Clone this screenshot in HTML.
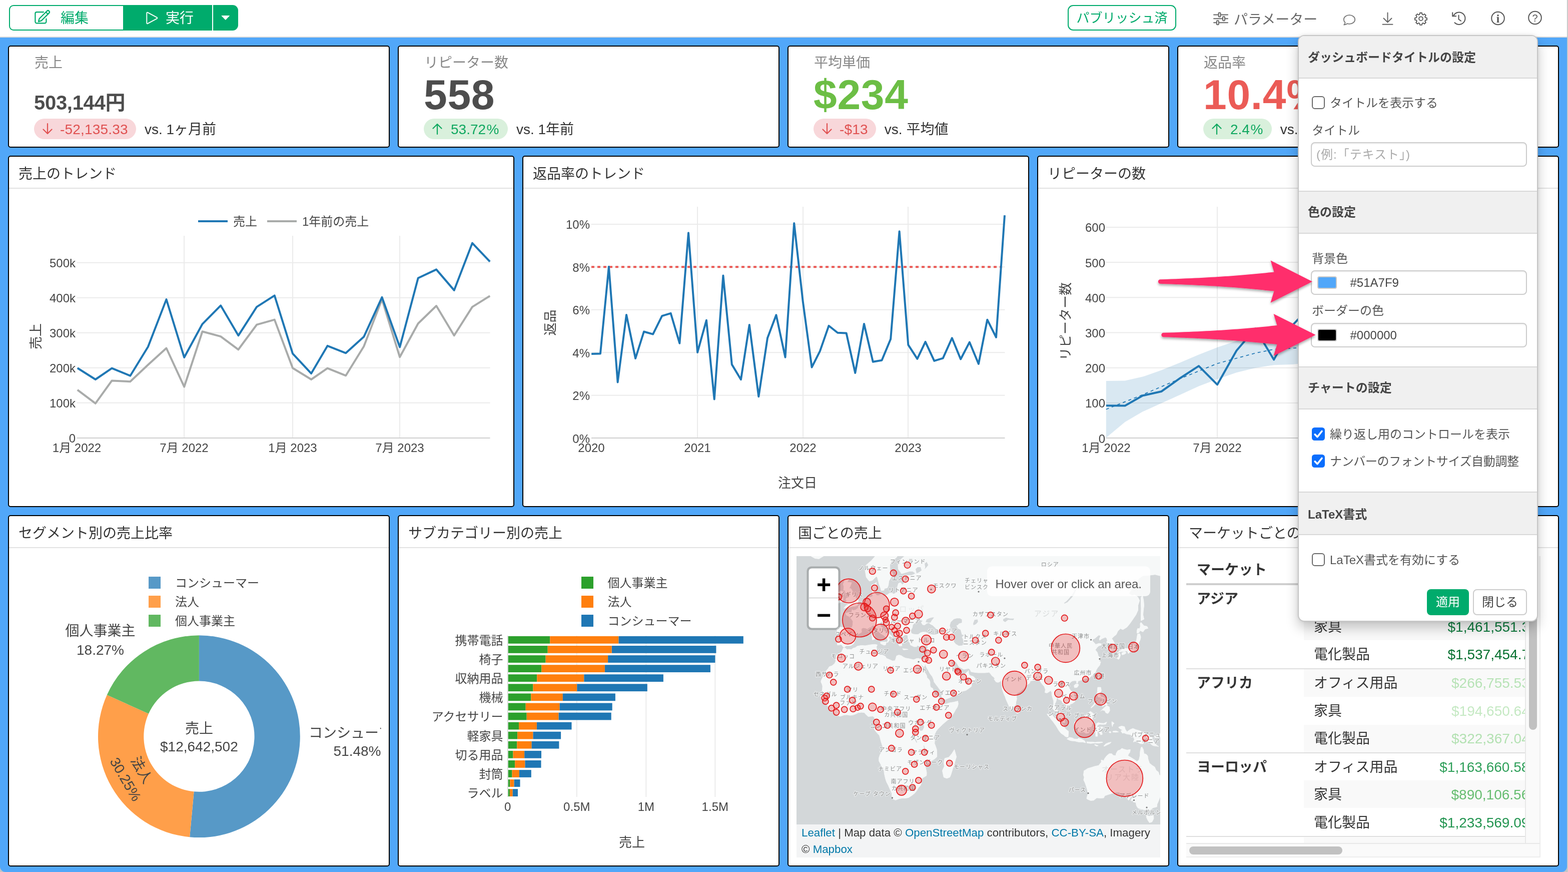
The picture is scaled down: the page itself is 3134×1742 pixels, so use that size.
<!DOCTYPE html>
<html lang="ja">
<head>
<meta charset="utf-8">
<title>ダッシュボード</title>
<style>
*{box-sizing:border-box;margin:0;padding:0}
html,body{width:3134px;height:1742px;overflow:hidden;background:#fff}
body{position:relative;font-family:"Liberation Sans","Noto Sans CJK JP",sans-serif;color:#333;font-size:28px;line-height:1}
svg text{font-family:"Liberation Sans","Noto Sans CJK JP",sans-serif}
.abs{position:absolute}
#bg{position:absolute;left:0;top:75px;width:3132px;height:1667px;background:#51a7f9;border-radius:0 0 11px 11px}
#cornl,#cornr{position:absolute;top:1728px;width:14px;height:14px;background:#c4c4c4}
#cornl{left:0}
#cornr{left:3118px}
#topline{position:absolute;left:0;top:73px;width:3132px;height:2px;background:#dcdcdc}
#redge{position:absolute;left:3132px;top:0;width:2px;height:1742px;background:linear-gradient(90deg,#b4b4b4,#dedede)}
.card{position:absolute;background:#fff;border:2px solid #000;border-radius:5px;overflow:hidden}
.card .ttl{position:absolute;left:0;top:0;right:0;height:64px;border-bottom:2px solid #e2e2e2;font-size:28px;line-height:70px;padding-left:19px;color:#333;white-space:nowrap}
.kl{position:absolute;left:51px;top:13px;font-size:28px;line-height:40px;color:#888;white-space:nowrap}
.kv{position:absolute;left:50px;font-weight:bold;white-space:nowrap;letter-spacing:-0.3px}
.prow{position:absolute;left:50px;top:144px;height:41px;display:flex;white-space:nowrap}
.pill{position:relative;height:41px;border-radius:21px;font-size:28px;line-height:43px;padding:0 16px 0 54px;white-space:nowrap}
.pill svg{position:absolute;left:15px;top:8px}
.pill.r{background:#f8d7da;color:#e05252}
.pill.g{background:#d9f0dc;color:#10a860}
.vs{margin-left:17px;font-size:28px;line-height:43px;color:#333;white-space:nowrap}
</style>
</head>
<body>
<div id="cornl"></div><div id="cornr"></div>
<div id="bg"></div>
<div id="topline"></div>
<div id="redge"></div>

<!-- top bar -->
<div class="abs" style="left:18px;top:10px;width:230px;height:51px;border:2px solid #00ab6c;border-right:0;border-radius:9px 0 0 9px;background:#fff"></div>
<div class="abs" style="left:246px;top:10px;width:178px;height:51px;background:#00ab6c"></div>
<div class="abs" style="left:426px;top:10px;width:50px;height:51px;background:#00ab6c;border-radius:0 11px 11px 0"></div>
<svg class="abs" style="left:66px;top:16px" width="38" height="36" viewBox="0 0 38 36" fill="none" stroke="#00ab6c" stroke-width="2.2" stroke-linecap="round" stroke-linejoin="round">
<path d="M21 8.100H7.400a3 3 0 0 0-3 3V27.300a3 3 0 0 0 3 3H23.400a3 3 0 0 0 3-3V21.500"/>
<path d="M10.9 27.1L12.600 21.300L27.900 6a2.900 2.900 0 0 1 4.100 0a2.900 2.900 0 0 1 0 4.100L16.700 25.400z"/>
<path d="M25.700 8.200l4.100 4.100"/>
</svg>
<div class="abs" style="left:121px;top:17px;font-size:28px;line-height:40px;color:#00ab6c">編集</div>
<svg class="abs" style="left:288px;top:20px" width="30" height="32" viewBox="0 0 30 32" fill="none" stroke="#fff" stroke-width="1.900" stroke-linejoin="round">
<path d="M5.300 6.400Q5.300 3.900 7.500 5.100L25.200 14.700Q27.500 16 25.200 17.300L7.500 26.900Q5.300 28.100 5.300 25.600Z"/>
</svg>
<div class="abs" style="left:331px;top:17px;font-size:28px;line-height:40px;color:#fff">実行</div>
<svg class="abs" style="left:441px;top:30px" width="20" height="12" viewBox="0 0 20 12"><path d="M2 1.5h15.5L9.8 9.6z" fill="#fff" stroke="#fff" stroke-width="1" stroke-linejoin="round"/></svg>

<div class="abs" style="left:2134px;top:10px;width:217px;height:51px;border:2px solid #00ab6c;border-radius:11px;color:#00ab6c;font-size:26px;line-height:48px;text-align:center;white-space:nowrap">パブリッシュ済</div>

<svg class="abs" style="left:2424px;top:23px" width="32" height="28" viewBox="0 0 32 28" fill="none" stroke="#666" stroke-width="2">
<path d="M2 6.5h28M2 14.3h28M2 22.2h28" stroke-linecap="round"/>
<rect x="11.5" y="2.6" width="4" height="8" rx="1" fill="#fff"/>
<rect x="20" y="10.3" width="4" height="8" rx="1" fill="#fff"/>
<rect x="7.8" y="18.2" width="4" height="8" rx="1" fill="#fff"/>
</svg>
<div class="abs" style="left:2466px;top:19.5px;font-size:28px;line-height:40px;color:#666;white-space:nowrap">パラメーター</div>

<svg class="abs" style="left:2682px;top:26px" width="30" height="28" viewBox="0 0 30 28" fill="none" stroke="#777" stroke-width="1.8" stroke-linejoin="round">
<path d="M15 4.2c6.2 0 11.2 3.9 11.2 8.8s-5 8.8-11.2 8.8c-1.5 0-2.9-.2-4.200-.6c-1.6 1.200-3.800 2.200-6.600 2.500c1.400-1.500 2.200-3.100 2.400-4.700C4.800 17.400 3.800 15.300 3.800 13C3.800 8.100 8.800 4.200 15 4.200z"/>
</svg>
<svg class="abs" style="left:2760px;top:22px" width="28" height="30" viewBox="0 0 28 30" fill="none" stroke="#666" stroke-width="2" stroke-linecap="round" stroke-linejoin="round">
<path d="M13.5 3.500V22M5.500 14.500L13.500 22.500L21.500 14.500M3.500 26.800H23.500"/>
</svg>
<svg class="abs" style="left:2826px;top:23px" width="28" height="28" viewBox="0 0 24 24" fill="none" stroke="#555" stroke-width="1.600" stroke-linejoin="round">
<path d="M10.3 2.200h3.400l.5 2.600 1.700.7 2.200-1.500 2.400 2.400-1.500 2.200.7 1.700 2.600.5v3.400l-2.600.5-.7 1.700 1.500 2.200-2.400 2.400-2.200-1.500-1.700.7-.5 2.600h-3.400l-.5-2.600-1.700-.7-2.200 1.500-2.400-2.400 1.500-2.200-.7-1.700-2.600-.5v-3.400l2.600-.5.7-1.700-1.500-2.200 2.400-2.400 2.200 1.500 1.700-.7z" transform="translate(0,0.200)"/>
<circle cx="12" cy="12.200" r="3.300"/>
</svg>
<svg class="abs" style="left:2900px;top:22px" width="32" height="30" viewBox="0 0 32 30" fill="none" stroke="#555" stroke-width="2" stroke-linecap="square" stroke-linejoin="miter">
<path d="M7.500 23.200A12.200 12.200 0 1 0 5.200 9.600" stroke-linecap="round"/>
<path d="M3.200 3.500V10.300H10"/>
<path d="M15.500 8.500V16.500L20 19.800" stroke-linecap="round"/>
</svg>
<svg class="abs" style="left:2978px;top:21px" width="32" height="32" viewBox="0 0 32 32" fill="none" stroke="#555" stroke-width="2">
<circle cx="16" cy="15.500" r="12.800"/>
<text x="16" y="23.500" text-anchor="middle" style="font-family:'Liberation Serif',serif;font-weight:bold;font-size:23px" fill="#555" stroke="none">i</text>
</svg>
<svg class="abs" style="left:3052px;top:20px" width="32" height="32" viewBox="0 0 32 32" fill="none" stroke="#555" stroke-width="2">
<circle cx="16" cy="15.500" r="12.800"/>
<text x="16" y="22.500" text-anchor="middle" font-size="20" fill="#555" stroke="none">?</text>
</svg>

<div class="card" style="left:16px;top:91px;width:763px;height:204px" id="kpi16"><div class="kl">売上</div><div class="kv" style="top:87px;font-size:40px;line-height:50px;color:#4d4d4d;letter-spacing:-0.3px">503,144円</div><div class="prow"><div class="pill r" style="padding-left:52px;letter-spacing:0.2px"><svg width="24" height="25" viewBox="0 0 24 25" fill="none" stroke="#e05252" stroke-width="2.200" stroke-linecap="round" stroke-linejoin="round"><path d="M12 2V22M3.500 13.500L12 22L20.500 13.500"/></svg>-52,135.33</div><div class="vs">vs. 1ヶ月前</div></div></div>
<div class="card" style="left:795px;top:91px;width:763px;height:204px" id="kpi795"><div class="kl">リピーター数</div><div class="kv" style="top:49px;font-size:84px;line-height:94px;color:#4d4d4d;letter-spacing:0.7px">558</div><div class="prow"><div class="pill g"><svg width="24" height="25" viewBox="0 0 24 25" fill="none" stroke="#10a860" stroke-width="2.200" stroke-linecap="round" stroke-linejoin="round"><path d="M12 23V3M3.500 11.500L12 3L20.500 11.500"/></svg>53.72<span style="margin-left:1.5px;margin-right:1.5px">%</span></div><div class="vs">vs. 1年前</div></div></div>
<div class="card" style="left:1574px;top:91px;width:763px;height:204px" id="kpi1574"><div class="kl">平均単価</div><div class="kv" style="top:49px;font-size:84px;line-height:94px;color:#6cbe45;letter-spacing:0.7px">$234</div><div class="prow"><div class="pill r" style="padding-left:52px;letter-spacing:0.2px"><svg width="24" height="25" viewBox="0 0 24 25" fill="none" stroke="#e05252" stroke-width="2.200" stroke-linecap="round" stroke-linejoin="round"><path d="M12 2V22M3.500 13.500L12 22L20.500 13.500"/></svg>-$13</div><div class="vs">vs. 平均値</div></div></div>
<div class="card" style="left:2353px;top:91px;width:763px;height:204px" id="kpi2353"><div class="kl">返品率</div><div class="kv" style="top:49px;font-size:84px;line-height:94px;color:#eb5b56;letter-spacing:0.7px">10.4%</div><div class="prow"><div class="pill g"><svg width="24" height="25" viewBox="0 0 24 25" fill="none" stroke="#10a860" stroke-width="2.200" stroke-linecap="round" stroke-linejoin="round"><path d="M12 23V3M3.500 11.500L12 3L20.500 11.500"/></svg>2.4<span style="margin-left:1.5px;margin-right:1.5px">%</span></div><div class="vs">vs. 1年前</div></div></div>
<div class="card" style="left:16px;top:311px;width:1012px;height:702px"><div class="ttl">売上のトレンド</div><svg class="abs" style="left:-18px;top:-313px" width="3134" height="1742" viewBox="0 0 3134 1742"><line x1="368.0" x2="368.0" y1="471.0" y2="875.0" stroke="#ebebeb" stroke-width="2"/><line x1="585.0" x2="585.0" y1="471.0" y2="875.0" stroke="#ebebeb" stroke-width="2"/><line x1="799.0" x2="799.0" y1="471.0" y2="875.0" stroke="#ebebeb" stroke-width="2"/><line x1="153.5" x2="979.5" y1="804.8" y2="804.8" stroke="#ebebeb" stroke-width="2"/><line x1="153.5" x2="979.5" y1="734.8" y2="734.8" stroke="#ebebeb" stroke-width="2"/><line x1="153.5" x2="979.5" y1="664.8" y2="664.8" stroke="#ebebeb" stroke-width="2"/><line x1="153.5" x2="979.5" y1="594.8" y2="594.8" stroke="#ebebeb" stroke-width="2"/><line x1="153.5" x2="979.5" y1="524.8" y2="524.8" stroke="#ebebeb" stroke-width="2"/><line x1="153.5" x2="979.5" y1="875.0" y2="875.0" stroke="#cfcfcf" stroke-width="2"/><polyline points="154.8,778.9 190.8,805.8 223.6,760.4 260.3,762.2 295.9,728.7 332.5,695.5 368.2,772.7 404.5,662.3 441.1,672.1 476.4,698.3 513.1,648.7 548.7,638.6 585.0,735.3 622.1,758.0 654.5,735.6 691.2,750.3 727.2,692.0 763.5,598.1 799.1,713.3 835.7,646.3 872.1,611.0 907.7,670.3 944.0,613.1 979.2,591.1" fill="none" stroke="#a9abaa" stroke-width="4" stroke-linejoin="round" stroke-linecap="butt" /><polyline points="154.8,735.3 190.8,758.0 223.6,735.6 260.3,750.7 295.9,692.7 332.5,598.1 368.2,714.0 404.5,647.3 441.1,610.3 476.4,670.3 513.1,613.1 548.7,590.4 585.0,706.3 622.1,746.1 654.5,690.9 691.2,705.3 727.2,672.8 763.5,593.9 799.1,693.4 835.7,555.5 872.1,538.4 907.7,579.9 944.0,485.6 979.2,522.7" fill="none" stroke="#1f77b4" stroke-width="4" stroke-linejoin="round" stroke-linecap="butt" /><text x="151.0" y="884.2" font-size="24" text-anchor="end" fill="#444" >0</text><text x="151.0" y="814.2" font-size="24" text-anchor="end" fill="#444" >100k</text><text x="151.0" y="744.2" font-size="24" text-anchor="end" fill="#444" >200k</text><text x="151.0" y="674.2" font-size="24" text-anchor="end" fill="#444" >300k</text><text x="151.0" y="604.2" font-size="24" text-anchor="end" fill="#444" >400k</text><text x="151.0" y="534.2" font-size="24" text-anchor="end" fill="#444" >500k</text><text x="153.5" y="902.9" font-size="24" text-anchor="middle" fill="#444" >1月 2022</text><text x="368.0" y="902.9" font-size="24" text-anchor="middle" fill="#444" >7月 2022</text><text x="585.0" y="902.9" font-size="24" text-anchor="middle" fill="#444" >1月 2023</text><text x="799.0" y="902.9" font-size="24" text-anchor="middle" fill="#444" >7月 2023</text><text transform="translate(72.0,672.0) rotate(-90)" x="0" y="9.2" font-size="26" text-anchor="middle" fill="#444">売上</text><line x1="396.0" x2="455.0" y1="442.0" y2="442.0" stroke="#1f77b4" stroke-width="4"/><text x="466.0" y="451.4" font-size="24" text-anchor="start" fill="#444" >売上</text><line x1="534.0" x2="593.0" y1="442.0" y2="442.0" stroke="#a9abaa" stroke-width="4"/><text x="604.0" y="451.4" font-size="24" text-anchor="start" fill="#444" >1年前の売上</text></svg></div>
<div class="card" style="left:1044px;top:311px;width:1013px;height:702px"><div class="ttl">返品率のトレンド</div><svg class="abs" style="left:-1046px;top:-313px" width="3134" height="1742" viewBox="0 0 3134 1742"><line x1="1394.0" x2="1394.0" y1="413.0" y2="875.0" stroke="#ebebeb" stroke-width="2"/><line x1="1605.0" x2="1605.0" y1="413.0" y2="875.0" stroke="#ebebeb" stroke-width="2"/><line x1="1815.0" x2="1815.0" y1="413.0" y2="875.0" stroke="#ebebeb" stroke-width="2"/><line x1="1182.0" x2="2008.5" y1="789.7" y2="789.7" stroke="#ebebeb" stroke-width="2"/><line x1="1182.0" x2="2008.5" y1="704.2" y2="704.2" stroke="#ebebeb" stroke-width="2"/><line x1="1182.0" x2="2008.5" y1="618.8" y2="618.8" stroke="#ebebeb" stroke-width="2"/><line x1="1182.0" x2="2008.5" y1="533.3" y2="533.3" stroke="#ebebeb" stroke-width="2"/><line x1="1182.0" x2="2008.5" y1="447.9" y2="447.9" stroke="#ebebeb" stroke-width="2"/><line x1="1182.0" x2="2008.5" y1="875.0" y2="875.0" stroke="#cfcfcf" stroke-width="2"/><line x1="1182" x2="2002.5" y1="533.3" y2="533.3" stroke="#ea5a55" stroke-width="4" stroke-dasharray="6,6"/><polyline points="1182.2,706.9 1199.9,706.6 1216.9,532.7 1234.6,763.5 1252.0,628.9 1270.1,716.0 1287.0,662.5 1305.1,667.7 1323.2,631.2 1340.6,625.9 1358.3,685.8 1376.0,465.2 1394.1,703.9 1411.9,639.8 1427.7,797.5 1445.4,550.5 1462.8,728.1 1480.9,758.2 1497.8,648.9 1516.3,792.2 1534.0,675.3 1551.4,629.3 1569.5,713.7 1587.2,446.0 1604.9,603.6 1622.6,733.7 1638.8,701.7 1656.5,650.8 1674.2,664.7 1691.6,665.5 1709.3,745.0 1727.0,647.0 1744.8,722.8 1762.5,719.8 1780.2,677.2 1797.6,462.2 1815.3,688.8 1833.4,716.8 1849.6,682.8 1867.3,720.9 1884.7,715.6 1902.8,675.3 1920.1,717.5 1937.8,683.6 1955.9,726.9 1973.3,638.7 1991.0,673.8 2008.0,430.2" fill="none" stroke="#1f77b4" stroke-width="4" stroke-linejoin="round" stroke-linecap="butt" stroke-linejoin="miter"/><text x="1179.0" y="884.5" font-size="24" text-anchor="end" fill="#444" >0%</text><text x="1179.0" y="799.0" font-size="24" text-anchor="end" fill="#444" >2%</text><text x="1179.0" y="713.6" font-size="24" text-anchor="end" fill="#444" >4%</text><text x="1179.0" y="628.1" font-size="24" text-anchor="end" fill="#444" >6%</text><text x="1179.0" y="542.7" font-size="24" text-anchor="end" fill="#444" >8%</text><text x="1179.0" y="457.3" font-size="24" text-anchor="end" fill="#444" >10%</text><text x="1182.0" y="902.9" font-size="24" text-anchor="middle" fill="#444" >2020</text><text x="1394.0" y="902.9" font-size="24" text-anchor="middle" fill="#444" >2021</text><text x="1605.0" y="902.9" font-size="24" text-anchor="middle" fill="#444" >2022</text><text x="1815.0" y="902.9" font-size="24" text-anchor="middle" fill="#444" >2023</text><text transform="translate(1100.0,644.5) rotate(-90)" x="0" y="9.2" font-size="26" text-anchor="middle" fill="#444">返品</text><text x="1594.0" y="974.1" font-size="26" text-anchor="middle" fill="#444" >注文日</text></svg></div>
<div class="card" style="left:2073px;top:311px;width:1043px;height:702px"><div class="ttl">リピーターの数</div><svg class="abs" style="left:-2075px;top:-313px" width="3134" height="1742" viewBox="0 0 3134 1742"><line x1="2433.0" x2="2433.0" y1="413.0" y2="875.0" stroke="#ebebeb" stroke-width="2"/><line x1="2656.0" x2="2656.0" y1="413.0" y2="875.0" stroke="#ebebeb" stroke-width="2"/><line x1="2876.0" x2="2876.0" y1="413.0" y2="875.0" stroke="#ebebeb" stroke-width="2"/><line x1="2211.0" x2="3062.0" y1="804.9" y2="804.9" stroke="#ebebeb" stroke-width="2"/><line x1="2211.0" x2="3062.0" y1="734.7" y2="734.7" stroke="#ebebeb" stroke-width="2"/><line x1="2211.0" x2="3062.0" y1="664.5" y2="664.5" stroke="#ebebeb" stroke-width="2"/><line x1="2211.0" x2="3062.0" y1="594.3" y2="594.3" stroke="#ebebeb" stroke-width="2"/><line x1="2211.0" x2="3062.0" y1="524.1" y2="524.1" stroke="#ebebeb" stroke-width="2"/><line x1="2211.0" x2="3062.0" y1="453.9" y2="453.9" stroke="#ebebeb" stroke-width="2"/><line x1="2211.0" x2="3062.0" y1="875.0" y2="875.0" stroke="#cfcfcf" stroke-width="2"/><polygon points="2210.8,760.9 2248.6,760.5 2284.0,752.6 2321.3,739.4 2359.0,724.3 2396.0,708.5 2433.0,694.1 2471.4,680.9 2509.1,672.3 2546.1,667.7 2583.4,664.0 2657.3,648.9 2768.6,611.2 2879.4,565.9 2990.7,513.1 3064.6,467.9 3064.6,577.2 2990.7,596.1 2879.4,641.3 2768.6,686.6 2657.3,720.5 2583.4,728.1 2546.1,729.2 2509.1,734.9 2471.4,744.3 2433.0,757.5 2396.0,771.4 2359.0,788.4 2321.3,805.4 2284.0,822.3 2248.6,843.1 2210.8,874.4" fill="#1f77b4" fill-opacity="0.17"/><polyline points="2210.8,817.8 2284.0,788.4 2359.0,756.3 2433.0,726.2 2509.1,705.4 2546.1,697.9 2594.7,694.9 2657.3,686.6 2768.6,648.9 2879.4,603.6 2990.7,554.6 3064.6,524.4" fill="none" stroke="#1f77b4" stroke-width="1.7" stroke-linejoin="round" stroke-linecap="butt" stroke-dasharray="6,6"/><polyline points="2210.8,810.3 2248.6,810.6 2284.0,790.3 2321.3,782.0 2359.0,755.2 2396.0,731.1 2433.0,768.4 2471.4,700.5 2509.1,656.4 2546.1,718.6 2583.4,649.6 2620.4,611.2 2657.3,641.3 2694.7,596.1 2731.6,569.7 2768.6,611.2 2805.5,577.2 2842.5,558.4 2879.4,571.6 2916.8,543.3 2953.7,513.1 2990.7,528.2 3027.6,498.0 3064.6,483.7" fill="none" stroke="#1f77b4" stroke-width="4" stroke-linejoin="round" stroke-linecap="butt" /><text x="2209.0" y="884.5" font-size="24" text-anchor="end" fill="#444" >0</text><text x="2209.0" y="814.3" font-size="24" text-anchor="end" fill="#444" >100</text><text x="2209.0" y="744.1" font-size="24" text-anchor="end" fill="#444" >200</text><text x="2209.0" y="673.9" font-size="24" text-anchor="end" fill="#444" >300</text><text x="2209.0" y="603.7" font-size="24" text-anchor="end" fill="#444" >400</text><text x="2209.0" y="533.5" font-size="24" text-anchor="end" fill="#444" >500</text><text x="2209.0" y="463.3" font-size="24" text-anchor="end" fill="#444" >600</text><text x="2211.0" y="902.9" font-size="24" text-anchor="middle" fill="#444" >1月 2022</text><text x="2433.0" y="902.9" font-size="24" text-anchor="middle" fill="#444" >7月 2022</text><text x="2656.0" y="902.9" font-size="24" text-anchor="middle" fill="#444" >1月 2023</text><text x="2876.0" y="902.9" font-size="24" text-anchor="middle" fill="#444" >7月 2023</text><text transform="translate(2129.5,642.0) rotate(-90)" x="0" y="9.2" font-size="26" text-anchor="middle" fill="#444">リピーター数</text></svg></div>
<div class="card" style="left:16px;top:1029px;width:763px;height:702px"><div class="ttl">セグメント別の売上比率</div><svg class="abs" style="left:-18px;top:-1031px" width="3134" height="1742" viewBox="0 0 3134 1742"><path d="M397.90,1269.30A201.9,201.9 0 1 1 379.15,1672.23L387.63,1581.32A110.6,110.6 0 1 0 397.90,1360.60Z" fill="#5799c7"/><path d="M379.15,1672.23A201.9,201.9 0 0 1 213.78,1388.35L297.04,1425.81A110.6,110.6 0 0 0 387.63,1581.32Z" fill="#ff9f4a"/><path d="M213.78,1388.35A201.9,201.9 0 0 1 397.90,1269.30L397.90,1360.60A110.6,110.6 0 0 0 297.04,1425.81Z" fill="#61b861"/><rect x="297" y="1152" width="24" height="24" fill="#5799c7"/><text x="350.0" y="1173.4" font-size="24" text-anchor="start" fill="#444" >コンシューマー</text><rect x="297" y="1190" width="24" height="24" fill="#ff9f4a"/><text x="350.0" y="1211.4" font-size="24" text-anchor="start" fill="#444" >法人</text><rect x="297" y="1228" width="24" height="24" fill="#61b861"/><text x="350.0" y="1249.4" font-size="24" text-anchor="start" fill="#444" >個人事業主</text><text x="200.5" y="1269.9" font-size="28" text-anchor="middle" fill="#444" >個人事業主</text><text x="200.5" y="1307.9" font-size="28" text-anchor="middle" fill="#444" >18.27%</text><clipPath id="pcl"><rect x="18" y="1031" width="743.500" height="698"/></clipPath><g clip-path="url(#pcl)"><text x="617.0" y="1473.9" font-size="28" text-anchor="start" fill="#444" >コンシューマー</text></g><text x="761.5" y="1510.4" font-size="28" text-anchor="end" fill="#444" >51.48%</text><text x="397.9" y="1465.4" font-size="28" text-anchor="middle" fill="#444" >売上</text><text x="397.9" y="1501.4" font-size="28" text-anchor="middle" fill="#444" >$12,642,502</text><g transform="translate(262.9,1549.8) rotate(59.78)"><text x="0" y="-13.500" font-size="28" text-anchor="middle" fill="#444">法人</text><text x="0" y="23.500" font-size="28" text-anchor="middle" fill="#444">30.25%</text></g></svg></div>
<div class="card" style="left:795px;top:1029px;width:763px;height:702px"><div class="ttl">サブカテゴリー別の売上</div><svg class="abs" style="left:-797px;top:-1031px" width="3134" height="1742" viewBox="0 0 3134 1742"><line x1="1152.8" x2="1152.8" y1="1270.0" y2="1592.0" stroke="#ebebeb" stroke-width="2"/><line x1="1291.3" x2="1291.3" y1="1270.0" y2="1592.0" stroke="#ebebeb" stroke-width="2"/><line x1="1429.3" x2="1429.3" y1="1270.0" y2="1592.0" stroke="#ebebeb" stroke-width="2"/><line x1="1014.8" x2="1014.8" y1="1270.0" y2="1592.0" stroke="#dcdcdc" stroke-width="2"/><rect x="1015.8" y="1270.9" width="83.5" height="14.8" fill="#2ca02c"/><rect x="1099.3" y="1270.9" width="137.2" height="14.8" fill="#ff7f0e"/><rect x="1236.5" y="1270.9" width="249.3" height="14.8" fill="#1f77b4"/><text x="1005.5" y="1287.7" font-size="24" text-anchor="end" fill="#444" >携帯電話</text><rect x="1015.8" y="1290.0" width="78.9" height="14.8" fill="#2ca02c"/><rect x="1094.7" y="1290.0" width="128.1" height="14.8" fill="#ff7f0e"/><rect x="1222.9" y="1290.0" width="208.5" height="14.8" fill="#1f77b4"/><rect x="1015.8" y="1309.1" width="74.8" height="14.8" fill="#2ca02c"/><rect x="1090.6" y="1309.1" width="124.4" height="14.8" fill="#ff7f0e"/><rect x="1215.1" y="1309.1" width="214.3" height="14.8" fill="#1f77b4"/><text x="1005.5" y="1325.8" font-size="24" text-anchor="end" fill="#444" >椅子</text><rect x="1015.8" y="1328.2" width="66.6" height="14.8" fill="#2ca02c"/><rect x="1082.4" y="1328.2" width="126.5" height="14.8" fill="#ff7f0e"/><rect x="1208.9" y="1328.2" width="211.0" height="14.8" fill="#1f77b4"/><rect x="1015.8" y="1347.2" width="57.5" height="14.8" fill="#2ca02c"/><rect x="1073.3" y="1347.2" width="93.9" height="14.8" fill="#ff7f0e"/><rect x="1167.3" y="1347.2" width="158.6" height="14.8" fill="#1f77b4"/><text x="1005.5" y="1364.0" font-size="24" text-anchor="end" fill="#444" >収納用品</text><rect x="1015.8" y="1366.3" width="49.7" height="14.8" fill="#2ca02c"/><rect x="1065.5" y="1366.3" width="87.8" height="14.8" fill="#ff7f0e"/><rect x="1153.3" y="1366.3" width="140.5" height="14.8" fill="#1f77b4"/><rect x="1015.8" y="1385.4" width="45.6" height="14.8" fill="#2ca02c"/><rect x="1061.4" y="1385.4" width="63.5" height="14.8" fill="#ff7f0e"/><rect x="1124.8" y="1385.4" width="105.1" height="14.8" fill="#1f77b4"/><text x="1005.5" y="1402.2" font-size="24" text-anchor="end" fill="#444" >機械</text><rect x="1015.8" y="1404.5" width="34.9" height="14.8" fill="#2ca02c"/><rect x="1050.7" y="1404.5" width="68.0" height="14.8" fill="#ff7f0e"/><rect x="1118.6" y="1404.5" width="105.1" height="14.8" fill="#1f77b4"/><rect x="1015.8" y="1423.6" width="36.9" height="14.8" fill="#2ca02c"/><rect x="1052.7" y="1423.6" width="63.9" height="14.8" fill="#ff7f0e"/><rect x="1116.6" y="1423.6" width="105.1" height="14.8" fill="#1f77b4"/><text x="1005.5" y="1440.3" font-size="24" text-anchor="end" fill="#444" >アクセサリー</text><rect x="1015.8" y="1442.7" width="21.3" height="14.8" fill="#2ca02c"/><rect x="1037.1" y="1442.7" width="35.8" height="14.8" fill="#ff7f0e"/><rect x="1072.9" y="1442.7" width="69.6" height="14.8" fill="#1f77b4"/><rect x="1015.8" y="1461.7" width="18.4" height="14.8" fill="#2ca02c"/><rect x="1034.2" y="1461.7" width="31.3" height="14.8" fill="#ff7f0e"/><rect x="1065.5" y="1461.7" width="55.6" height="14.8" fill="#1f77b4"/><text x="1005.5" y="1478.5" font-size="24" text-anchor="end" fill="#444" >軽家具</text><rect x="1015.8" y="1480.8" width="17.6" height="14.8" fill="#2ca02c"/><rect x="1033.4" y="1480.8" width="29.3" height="14.8" fill="#ff7f0e"/><rect x="1062.6" y="1480.8" width="54.8" height="14.8" fill="#1f77b4"/><rect x="1015.8" y="1499.9" width="9.7" height="14.8" fill="#2ca02c"/><rect x="1025.5" y="1499.9" width="22.7" height="14.8" fill="#ff7f0e"/><rect x="1048.2" y="1499.9" width="33.8" height="14.8" fill="#1f77b4"/><text x="1005.5" y="1516.7" font-size="24" text-anchor="end" fill="#444" >切る用品</text><rect x="1015.8" y="1519.0" width="13.4" height="14.8" fill="#2ca02c"/><rect x="1029.2" y="1519.0" width="20.2" height="14.8" fill="#ff7f0e"/><rect x="1049.4" y="1519.0" width="32.1" height="14.8" fill="#1f77b4"/><rect x="1015.8" y="1538.1" width="7.7" height="14.8" fill="#2ca02c"/><rect x="1023.5" y="1538.1" width="14.4" height="14.8" fill="#ff7f0e"/><rect x="1037.9" y="1538.1" width="23.9" height="14.8" fill="#1f77b4"/><text x="1005.5" y="1554.8" font-size="24" text-anchor="end" fill="#444" >封筒</text><rect x="1015.8" y="1557.1" width="3.5" height="14.8" fill="#2ca02c"/><rect x="1019.3" y="1557.1" width="8.2" height="14.8" fill="#ff7f0e"/><rect x="1027.6" y="1557.1" width="11.9" height="14.8" fill="#1f77b4"/><rect x="1015.8" y="1576.2" width="3.1" height="14.8" fill="#2ca02c"/><rect x="1018.9" y="1576.2" width="5.8" height="14.8" fill="#ff7f0e"/><rect x="1024.7" y="1576.2" width="10.3" height="14.8" fill="#1f77b4"/><text x="1005.5" y="1593.0" font-size="24" text-anchor="end" fill="#444" >ラベル</text><rect x="1162" y="1152" width="24" height="24" fill="#2ca02c"/><text x="1214.5" y="1173.4" font-size="24" text-anchor="start" fill="#444" >個人事業主</text><rect x="1162" y="1190" width="24" height="24" fill="#ff7f0e"/><text x="1214.5" y="1211.4" font-size="24" text-anchor="start" fill="#444" >法人</text><rect x="1162" y="1228" width="24" height="24" fill="#1f77b4"/><text x="1214.5" y="1249.4" font-size="24" text-anchor="start" fill="#444" >コンシューマー</text><text x="1014.8" y="1619.9" font-size="24" text-anchor="middle" fill="#444" >0</text><text x="1152.8" y="1619.9" font-size="24" text-anchor="middle" fill="#444" >0.5M</text><text x="1291.3" y="1619.9" font-size="24" text-anchor="middle" fill="#444" >1M</text><text x="1429.3" y="1619.9" font-size="24" text-anchor="middle" fill="#444" >1.5M</text><text x="1263.0" y="1691.6" font-size="26" text-anchor="middle" fill="#444" >売上</text></svg></div>
<div class="card" style="left:1574px;top:1029px;width:763px;height:702px"><div class="ttl">国ごとの売上</div><svg class="abs" style="left:-1576px;top:-1031px" width="3134" height="1742" viewBox="0 0 3134 1742"><clipPath id="mcl"><rect x="1592" y="1111" width="727" height="602"/></clipPath><g clip-path="url(#mcl)"><rect x="1592" y="1111" width="727" height="602" fill="#d3d7d9"/><path d="M1809.9,1036.8L1789.8,1048.8L1769.6,1071.3L1757.6,1096.8L1749.5,1110.9L1741.5,1120.0L1731.4,1128.7L1729.4,1141.2L1731.4,1153.2L1737.5,1160.9L1743.5,1159.4L1751.5,1151.6L1753.5,1153.2L1755.6,1160.9L1757.6,1168.4L1760.4,1175.7L1761.6,1180.0L1766.8,1179.2L1767.6,1175.7L1773.7,1174.2L1775.7,1168.4L1776.5,1160.9L1779.7,1155.5L1783.7,1149.3L1784.9,1145.3L1778.9,1139.6L1778.5,1128.7L1781.7,1121.7L1791.8,1113.7L1795.8,1106.3L1799.8,1093.9L1805.8,1093.9L1811.1,1101.6L1807.9,1110.9L1797.8,1120.0L1795.0,1128.7L1795.4,1137.1L1799.8,1142.8L1801.8,1146.1L1809.9,1143.7L1817.9,1141.2L1823.9,1141.2L1830.0,1145.3L1826.0,1147.7L1821.9,1149.3L1813.9,1149.3L1805.8,1150.1L1803.8,1153.2L1804.6,1157.1L1807.9,1158.6L1807.0,1164.7L1803.8,1168.4L1799.8,1163.9L1795.8,1165.4L1793.8,1172.0L1793.8,1179.2L1789.8,1184.9L1785.7,1186.9L1783.7,1184.9L1777.7,1184.9L1773.7,1188.3L1766.8,1190.4L1761.6,1186.9L1755.6,1189.7L1752.7,1189.7L1749.5,1186.3L1747.5,1182.8L1751.5,1175.7L1751.5,1168.4L1751.5,1163.2L1747.5,1166.9L1742.3,1168.4L1741.9,1175.7L1743.9,1181.4L1743.9,1187.6L1744.7,1190.4L1741.5,1192.4L1737.5,1193.1L1733.4,1193.8L1729.4,1195.1L1728.2,1197.8L1725.4,1203.1L1723.4,1207.0L1719.4,1209.5L1715.7,1210.8L1715.3,1214.6L1710.1,1218.4L1705.3,1219.6L1703.3,1217.7L1702.1,1223.9L1697.2,1223.3L1690.4,1225.1L1692.0,1229.3L1699.2,1232.3L1702.1,1237.0L1704.9,1241.1L1704.5,1248.5L1702.5,1254.6L1697.2,1254.1L1689.2,1253.5L1681.1,1253.0L1676.3,1253.0L1672.3,1256.8L1673.9,1262.3L1673.9,1267.7L1673.1,1273.0L1671.5,1278.2L1672.3,1280.8L1673.9,1283.8L1673.5,1288.4L1677.5,1288.4L1681.1,1287.4L1683.6,1289.9L1685.2,1292.4L1687.6,1292.9L1691.2,1289.9L1697.2,1289.9L1701.3,1289.4L1706.5,1285.4L1708.5,1279.7L1710.1,1279.2L1708.1,1275.6L1711.3,1269.8L1713.3,1267.7L1718.1,1265.5L1722.2,1262.8L1721.8,1259.6L1721.8,1255.7L1725.4,1254.1L1729.4,1254.6L1733.4,1256.3L1737.5,1253.5L1741.5,1251.9L1744.7,1249.1L1748.7,1250.7L1750.7,1254.1L1751.5,1257.4L1754.0,1260.1L1758.4,1263.9L1761.6,1266.6L1765.6,1268.7L1769.2,1271.9L1772.1,1273.0L1773.7,1276.1L1774.5,1279.7L1772.5,1283.3L1774.1,1283.8L1776.1,1281.3L1778.1,1278.7L1778.1,1276.1L1775.7,1274.5L1777.3,1270.9L1781.3,1271.9L1783.3,1274.0L1783.7,1271.9L1781.3,1269.3L1777.3,1266.6L1773.7,1265.0L1774.1,1262.8L1770.4,1262.8L1767.6,1260.7L1764.8,1256.3L1763.6,1253.5L1760.0,1251.3L1758.8,1246.8L1758.8,1243.4L1762.4,1241.7L1764.4,1241.7L1764.0,1245.7L1766.4,1244.5L1769.2,1246.2L1770.8,1249.6L1773.7,1254.1L1777.7,1256.8L1781.7,1259.6L1785.7,1262.3L1787.3,1264.5L1787.3,1269.8L1789.8,1274.0L1792.6,1278.2L1794.2,1281.8L1796.2,1285.4L1796.6,1289.4L1799.4,1290.9L1801.0,1289.4L1802.2,1290.9L1802.6,1286.9L1801.0,1285.4L1803.8,1284.3L1805.8,1284.8L1805.8,1282.3L1802.6,1280.2L1801.4,1276.6L1800.6,1273.0L1800.6,1270.3L1803.8,1271.9L1805.8,1270.9L1807.9,1268.2L1811.9,1268.2L1813.9,1269.3L1814.7,1272.4L1814.7,1275.6L1817.1,1278.2L1815.9,1281.3L1818.7,1284.3L1819.5,1288.4L1822.7,1289.9L1826.8,1291.9L1832.0,1291.9L1833.2,1289.4L1838.0,1290.9L1842.0,1292.9L1846.1,1291.9L1850.1,1289.9L1854.1,1289.4L1854.1,1293.4L1853.3,1298.3L1853.7,1300.8L1852.1,1303.7L1850.5,1308.0L1849.3,1312.8L1848.1,1315.2L1846.9,1316.1L1844.1,1317.1L1840.0,1316.6L1839.2,1316.1L1840.0,1322.2L1840.4,1324.5L1842.0,1327.7L1844.5,1330.5L1846.9,1332.3L1848.5,1329.1L1849.7,1324.5L1850.1,1329.1L1852.1,1333.7L1856.1,1340.4L1858.9,1345.8L1863.4,1351.5L1866.2,1358.0L1867.0,1362.4L1870.2,1366.7L1874.2,1371.8L1878.2,1377.3L1881.1,1381.5L1881.5,1387.8L1883.1,1394.0L1884.3,1397.3L1890.3,1396.9L1896.4,1394.4L1902.4,1391.9L1908.4,1389.0L1914.5,1386.9L1919.3,1385.3L1924.5,1380.7L1930.5,1379.4L1936.6,1375.2L1941.8,1370.9L1941.8,1365.4L1945.8,1362.4L1949.9,1355.9L1945.8,1351.5L1939.4,1349.7L1936.6,1347.1L1935.8,1342.7L1936.2,1339.5L1934.6,1341.3L1931.7,1343.5L1928.5,1347.5L1922.5,1348.9L1918.5,1348.9L1916.9,1348.0L1916.9,1344.0L1916.5,1340.4L1914.5,1340.4L1913.6,1344.9L1911.6,1342.2L1910.8,1338.2L1908.8,1335.0L1905.2,1331.4L1903.2,1326.8L1901.6,1323.1L1904.8,1321.7L1906.4,1320.8L1910.4,1321.7L1913.6,1326.8L1916.5,1331.9L1920.9,1334.1L1926.5,1337.3L1932.6,1335.9L1936.6,1335.5L1939.4,1338.2L1940.6,1341.8L1946.6,1343.1L1954.7,1344.0L1960.7,1344.0L1968.8,1344.0L1976.8,1343.1L1980.0,1346.2L1982.8,1350.2L1986.1,1352.4L1988.9,1356.3L1986.9,1356.7L1990.9,1362.4L1994.9,1363.2L1998.9,1361.5L2000.9,1358.0L2001.3,1362.4L2002.1,1368.8L2002.9,1375.2L2004.2,1380.2L2006.2,1385.7L2009.0,1391.9L2010.6,1396.9L2013.0,1402.2L2015.8,1408.4L2017.4,1412.9L2021.1,1416.1L2023.9,1412.9L2027.1,1411.2L2030.3,1407.1L2030.7,1402.2L2032.3,1396.1L2031.5,1391.9L2031.9,1385.7L2035.1,1383.6L2040.4,1381.1L2044.4,1376.9L2049.2,1372.2L2053.2,1367.9L2058.1,1364.5L2059.3,1360.2L2063.3,1359.8L2067.3,1358.9L2071.3,1358.0L2073.7,1355.4L2076.2,1355.4L2079.0,1360.2L2080.6,1363.7L2083.4,1367.1L2087.4,1371.8L2089.4,1377.3L2088.6,1383.6L2092.7,1384.4L2097.5,1381.5L2100.3,1379.4L2102.3,1383.6L2102.3,1387.8L2103.9,1394.0L2105.9,1400.2L2105.9,1406.3L2104.7,1412.4L2104.7,1416.5L2106.3,1418.5L2110.4,1421.4L2112.8,1424.6L2113.2,1428.7L2114.8,1432.7L2116.8,1436.7L2118.8,1439.1L2123.6,1442.8L2126.0,1443.6L2128.5,1443.2L2127.7,1438.7L2125.2,1434.7L2125.2,1430.7L2122.4,1425.8L2120.4,1423.8L2117.6,1421.0L2113.6,1419.8L2111.6,1414.5L2108.7,1411.2L2108.3,1406.3L2110.4,1402.2L2111.6,1398.1L2112.0,1394.4L2115.2,1394.0L2115.6,1397.3L2119.6,1398.1L2122.8,1401.4L2124.0,1404.7L2128.9,1406.3L2131.7,1408.8L2130.9,1413.7L2132.9,1414.1L2137.7,1410.4L2138.9,1406.7L2142.9,1405.5L2147.8,1402.2L2149.0,1398.1L2148.6,1394.0L2147.0,1386.5L2143.7,1382.3L2139.7,1379.4L2137.3,1375.2L2134.9,1370.9L2135.3,1367.5L2138.1,1364.9L2140.1,1362.4L2143.7,1360.2L2147.8,1359.8L2150.2,1359.8L2151.8,1361.5L2151.8,1364.9L2153.8,1364.9L2154.6,1360.6L2159.0,1359.3L2163.9,1357.6L2168.3,1356.7L2171.9,1355.0L2177.9,1353.7L2182.0,1350.2L2186.0,1346.2L2190.0,1342.2L2191.2,1338.2L2194.0,1333.7L2198.0,1329.1L2199.3,1324.5L2200.1,1322.2L2196.0,1319.9L2199.7,1317.5L2198.9,1313.8L2195.2,1310.4L2193.2,1303.2L2189.2,1298.3L2192.8,1293.4L2196.0,1290.4L2202.1,1288.4L2201.3,1285.9L2196.0,1285.4L2190.0,1287.4L2187.2,1284.3L2183.2,1280.2L2184.0,1277.1L2188.0,1275.6L2196.0,1268.7L2200.1,1269.8L2197.2,1276.6L2198.0,1279.2L2202.1,1276.1L2209.3,1273.0L2212.1,1275.1L2213.3,1279.7L2211.3,1283.3L2214.5,1284.3L2218.2,1285.4L2218.6,1290.9L2217.8,1295.9L2217.4,1300.8L2221.4,1300.3L2226.2,1298.8L2229.4,1296.9L2230.2,1290.9L2228.2,1285.9L2225.4,1280.8L2222.2,1275.6L2226.2,1271.4L2231.0,1267.7L2234.2,1260.7L2239.5,1255.7L2244.3,1257.9L2252.4,1253.0L2258.4,1245.7L2264.4,1237.0L2270.5,1228.1L2274.5,1219.0L2274.5,1209.5L2277.7,1199.8L2274.5,1193.1L2268.4,1188.3L2262.4,1189.7L2256.4,1185.6L2262.4,1175.7L2268.4,1166.2L2276.5,1155.5L2284.5,1150.1L2296.6,1149.3L2308.7,1147.7L2320.7,1150.8L2332.8,1149.3L2340.8,1132.9L2352.9,1128.7L2365.0,1124.3L2365.0,981.5L1809.9,981.5ZM1685.6,1294.4L1688.0,1293.9L1693.2,1297.4L1697.2,1296.9L1701.3,1297.8L1705.3,1294.9L1709.3,1293.9L1713.3,1290.9L1721.4,1289.4L1729.4,1289.9L1737.5,1288.4L1745.5,1287.4L1750.3,1287.4L1753.5,1288.4L1751.5,1292.4L1752.7,1295.9L1750.3,1301.8L1752.7,1304.7L1755.6,1307.1L1759.6,1308.5L1763.6,1308.5L1769.6,1311.4L1771.7,1315.2L1777.7,1317.5L1783.7,1320.3L1788.9,1319.9L1790.6,1315.2L1791.8,1310.4L1796.6,1308.5L1801.8,1310.0L1805.8,1312.8L1809.9,1314.7L1817.9,1316.1L1826.0,1318.0L1832.0,1315.6L1836.0,1315.2L1839.2,1316.6L1840.0,1322.2L1839.6,1324.5L1841.2,1329.1L1844.1,1333.7L1846.1,1338.2L1848.1,1342.7L1852.1,1349.3L1852.9,1353.7L1857.3,1358.0L1858.9,1362.4L1858.9,1368.8L1860.1,1373.1L1864.2,1375.2L1867.0,1383.6L1869.4,1387.8L1874.2,1389.8L1879.5,1396.1L1883.1,1398.9L1883.5,1401.8L1887.5,1406.7L1892.3,1405.9L1898.4,1403.9L1906.4,1402.6L1914.5,1400.6L1915.3,1406.3L1913.6,1412.4L1909.6,1418.5L1906.4,1424.6L1902.4,1430.7L1896.4,1436.7L1890.3,1441.6L1884.3,1446.8L1878.2,1452.8L1874.2,1456.8L1871.0,1460.9L1868.2,1466.9L1866.2,1472.2L1865.4,1475.0L1868.2,1479.1L1867.8,1485.2L1870.2,1491.3L1872.2,1497.4L1872.6,1505.7L1872.6,1511.9L1868.2,1516.1L1862.2,1519.5L1857.3,1522.4L1852.1,1527.9L1849.3,1530.9L1850.9,1537.4L1852.1,1543.9L1851.7,1549.6L1844.1,1554.1L1841.2,1557.2L1841.6,1563.9L1839.6,1569.4L1836.0,1573.1L1832.0,1580.1L1828.0,1584.8L1821.9,1589.6L1815.9,1593.4L1809.9,1594.4L1803.8,1594.4L1797.8,1595.4L1789.8,1598.3L1784.9,1596.3L1783.3,1594.9L1782.5,1589.6L1782.5,1584.8L1779.3,1577.7L1775.7,1569.4L1771.7,1561.7L1769.6,1554.9L1767.6,1546.1L1766.8,1539.6L1763.6,1533.1L1759.6,1525.4L1756.8,1520.3L1756.8,1514.0L1758.8,1507.8L1763.6,1499.5L1764.8,1493.3L1762.8,1487.2L1760.8,1481.1L1758.8,1473.0L1757.6,1468.9L1753.5,1464.9L1748.7,1458.9L1745.5,1452.8L1746.7,1448.8L1747.5,1444.8L1748.3,1440.8L1748.7,1436.7L1747.5,1433.1L1744.7,1430.7L1739.5,1431.1L1735.4,1431.5L1731.4,1427.9L1727.4,1423.4L1721.4,1423.0L1715.3,1423.8L1711.3,1425.8L1705.3,1428.3L1699.2,1429.1L1693.2,1427.9L1687.2,1428.3L1679.1,1431.1L1673.1,1428.7L1667.1,1423.4L1663.0,1421.0L1659.0,1418.5L1656.2,1414.5L1655.0,1410.4L1651.0,1406.3L1649.0,1404.3L1644.9,1401.0L1642.1,1398.5L1641.7,1394.0L1640.1,1389.0L1641.7,1385.7L1642.9,1382.7L1643.7,1377.3L1644.1,1370.9L1642.9,1366.7L1640.9,1362.4L1641.3,1359.3L1644.1,1353.7L1645.7,1349.3L1649.0,1344.9L1651.0,1340.4L1655.0,1335.9L1657.4,1331.9L1663.0,1330.0L1668.3,1325.4L1670.3,1321.3L1669.9,1315.2L1672.3,1310.4L1675.1,1306.6L1679.1,1304.7L1681.9,1302.7L1684.0,1298.3ZM1686.4,1215.2L1691.2,1214.0L1695.2,1214.0L1701.3,1212.1L1705.3,1211.4L1710.5,1210.8L1714.9,1208.3L1713.3,1205.7L1716.1,1199.1L1711.3,1196.5L1710.1,1193.1L1708.5,1189.7L1704.5,1184.9L1702.9,1179.2L1700.5,1175.7L1697.2,1175.7L1699.2,1171.3L1701.3,1166.2L1702.1,1163.9L1695.2,1163.2L1693.2,1163.9L1695.2,1159.4L1697.2,1156.3L1689.2,1156.3L1687.2,1162.4L1685.2,1166.9L1686.8,1172.0L1686.0,1179.2L1689.2,1179.2L1690.0,1184.2L1695.2,1183.5L1697.2,1189.7L1697.2,1193.8L1692.0,1194.5L1690.4,1197.8L1692.8,1200.4L1688.4,1204.4L1692.4,1205.7L1697.2,1207.0L1695.2,1208.3L1691.2,1209.5ZM1669.1,1204.4L1671.1,1206.3L1677.1,1204.4L1683.6,1201.8L1685.2,1196.5L1684.4,1189.7L1686.8,1186.3L1684.4,1181.4L1679.1,1180.7L1675.1,1183.5L1675.1,1187.6L1669.1,1188.3L1669.9,1194.5L1671.9,1196.5L1669.9,1201.1ZM1612.8,1096.8L1620.8,1110.9L1628.8,1115.5L1636.9,1116.4L1649.0,1109.1L1654.6,1101.6L1651.0,1091.9L1636.9,1089.9L1620.8,1088.9ZM1759.2,1283.3L1763.6,1282.3L1771.7,1282.3L1770.0,1288.4L1766.8,1288.9L1760.4,1285.9ZM1742.3,1267.7L1747.9,1267.1L1748.3,1277.1L1743.5,1278.2L1743.1,1273.0ZM1743.9,1259.0L1747.5,1256.8L1747.5,1264.5L1744.7,1265.0ZM1803.8,1295.9L1809.9,1296.4L1815.1,1297.4L1805.8,1298.3ZM1839.2,1298.3L1842.0,1296.9L1848.1,1294.9L1846.1,1298.3L1842.0,1300.3ZM1907.6,1497.4L1911.6,1511.9L1909.6,1518.2L1908.0,1524.5L1904.4,1535.2L1900.4,1548.3L1898.4,1552.7L1892.3,1554.9L1886.3,1552.7L1883.5,1539.6L1887.5,1530.9L1886.3,1522.4L1888.3,1514.9L1896.4,1512.8L1902.4,1505.7ZM2030.3,1409.6L2032.3,1410.4L2036.3,1414.5L2038.8,1419.8L2037.1,1423.4L2033.1,1425.0L2031.1,1423.8L2030.3,1418.5ZM2146.6,1369.7L2149.8,1366.7L2155.0,1366.7L2155.8,1368.8L2153.0,1373.1L2147.8,1373.9ZM2196.0,1344.9L2199.3,1344.9L2198.0,1349.3L2196.0,1355.9L2194.8,1358.0L2192.4,1353.7L2193.2,1349.3ZM2231.0,1305.6L2234.2,1303.7L2238.3,1305.2L2239.5,1309.0L2237.5,1315.6L2235.1,1317.5L2233.0,1315.2L2233.0,1310.4L2231.0,1308.0ZM2242.3,1304.2L2248.3,1301.8L2251.1,1304.2L2248.3,1306.6L2244.3,1308.0L2242.3,1308.0ZM2235.9,1303.2L2240.3,1301.8L2246.3,1301.3L2252.4,1300.3L2253.6,1301.8L2255.2,1305.6L2259.6,1301.8L2261.6,1300.3L2266.4,1300.3L2268.4,1297.8L2271.7,1298.3L2272.9,1295.9L2276.1,1294.9L2275.3,1289.4L2276.5,1283.3L2278.9,1278.2L2280.1,1273.0L2278.1,1266.1L2273.7,1266.6L2272.5,1273.0L2271.7,1278.2L2270.1,1282.3L2266.4,1286.9L2261.6,1288.4L2261.6,1285.9L2259.6,1287.4L2259.2,1290.9L2256.4,1294.4L2254.4,1295.9L2250.3,1295.4L2244.3,1295.9L2240.3,1298.8L2236.3,1300.8ZM2272.5,1265.0L2276.5,1263.9L2278.5,1259.6L2284.5,1262.3L2288.6,1256.8L2294.6,1255.2L2292.6,1251.3L2286.5,1250.2L2280.5,1243.4L2278.9,1245.7L2279.3,1251.3L2277.7,1255.7L2273.7,1255.7L2272.5,1259.6ZM2280.5,1239.9L2286.5,1237.0L2284.5,1228.1L2285.3,1219.0L2286.5,1209.5L2285.7,1199.8L2283.7,1189.7L2280.5,1193.1L2280.5,1203.1L2280.9,1215.9L2280.5,1228.1ZM2194.0,1373.1L2200.1,1373.1L2201.3,1379.4L2198.0,1385.7L2200.1,1391.9L2206.1,1393.2L2208.1,1396.9L2204.1,1395.2L2199.3,1392.7L2194.8,1392.7L2194.4,1389.8L2192.0,1385.7L2193.2,1382.7ZM2200.1,1420.6L2206.1,1414.5L2212.1,1409.2L2217.4,1412.4L2218.2,1419.4L2216.1,1423.4L2214.1,1425.4L2210.1,1423.8L2208.1,1419.4L2202.1,1418.5ZM2200.1,1401.0L2204.1,1402.2L2208.1,1403.5L2214.1,1398.9L2214.1,1404.3L2212.1,1408.4L2207.3,1408.4L2204.1,1411.6L2202.1,1408.4L2200.1,1405.1ZM2180.7,1414.5L2186.0,1410.4L2190.0,1405.1L2189.2,1403.0L2185.2,1408.4L2181.2,1412.4ZM2147.8,1442.8L2150.2,1440.8L2153.0,1442.0L2157.0,1438.7L2163.9,1435.9L2167.9,1430.7L2173.9,1426.6L2179.1,1421.0L2182.8,1423.4L2188.0,1427.9L2184.8,1430.7L2183.2,1434.7L2184.0,1439.9L2188.0,1444.8L2183.2,1445.6L2182.0,1450.8L2177.9,1454.8L2177.1,1460.9L2175.9,1464.1L2170.7,1464.9L2165.9,1462.1L2159.0,1462.9L2152.6,1460.5L2151.8,1454.8L2148.6,1450.8L2147.8,1446.8ZM2092.7,1426.2L2097.5,1427.9L2102.7,1427.9L2106.3,1432.7L2110.8,1436.7L2113.6,1439.9L2117.6,1442.0L2122.8,1445.6L2126.4,1448.8L2126.8,1452.8L2129.7,1456.0L2131.7,1458.1L2135.7,1460.9L2135.3,1466.9L2134.9,1472.2L2131.7,1472.2L2128.9,1471.0L2125.6,1468.1L2120.8,1464.9L2116.8,1460.1L2113.6,1454.8L2110.8,1450.0L2107.5,1445.6L2104.7,1441.6L2101.5,1437.9L2098.7,1433.9L2094.7,1429.9ZM2132.5,1476.2L2137.7,1473.0L2143.7,1474.2L2147.0,1476.2L2153.8,1476.6L2155.8,1474.6L2161.8,1476.6L2167.9,1479.9L2169.9,1483.9L2163.9,1482.3L2155.8,1482.3L2147.8,1480.3L2141.7,1479.9L2137.3,1478.7ZM2171.9,1481.9L2177.9,1482.3L2184.0,1482.3L2188.8,1483.1L2194.0,1482.3L2203.3,1482.3L2204.1,1483.1L2196.0,1484.7L2188.0,1484.3L2179.9,1485.2L2172.7,1484.3ZM2188.0,1487.2L2195.2,1489.6L2192.0,1490.5L2188.0,1488.4ZM2206.1,1490.5L2210.1,1486.0L2216.1,1483.5L2221.0,1482.7L2218.2,1485.6L2212.1,1488.4L2208.1,1490.5ZM2191.2,1445.6L2195.2,1443.6L2200.1,1444.8L2206.1,1445.2L2212.1,1442.4L2210.1,1446.8L2204.1,1447.2L2198.0,1446.8L2194.0,1448.8L2192.0,1452.0L2196.0,1452.8L2202.1,1452.0L2205.3,1452.8L2200.1,1456.0L2198.9,1458.9L2202.1,1462.9L2203.3,1466.9L2200.1,1468.1L2198.0,1464.9L2195.2,1460.1L2193.2,1462.9L2193.6,1471.0L2190.0,1471.0L2190.0,1462.9L2187.2,1459.7L2189.2,1454.8L2191.2,1448.8ZM2222.2,1441.6L2224.2,1442.8L2227.0,1444.8L2224.2,1447.6L2223.4,1451.6L2222.2,1446.8ZM2224.2,1460.9L2230.2,1460.1L2235.5,1462.1L2230.2,1462.9L2224.2,1462.5ZM2217.0,1461.7L2220.2,1461.7L2220.2,1464.1L2217.0,1463.7ZM2235.9,1452.4L2241.5,1450.4L2247.5,1451.6L2249.1,1456.8L2252.4,1462.1L2258.4,1457.7L2264.4,1455.2L2270.5,1457.7L2276.5,1459.3L2284.5,1462.5L2290.6,1464.1L2295.8,1468.1L2296.6,1471.0L2302.6,1473.0L2303.8,1477.0L2306.7,1483.1L2312.7,1489.2L2315.9,1491.3L2310.7,1490.5L2304.6,1489.6L2300.6,1486.8L2296.6,1481.9L2290.6,1479.5L2286.5,1481.9L2284.5,1486.0L2278.5,1485.6L2272.5,1481.1L2268.4,1481.1L2265.2,1482.3L2267.6,1477.0L2264.4,1471.0L2258.4,1467.3L2252.4,1466.5L2246.3,1464.1L2243.5,1464.9L2240.3,1460.1L2244.3,1458.5L2240.3,1456.8L2236.3,1454.0ZM2306.7,1471.4L2312.7,1469.7L2318.7,1465.7L2321.9,1466.1L2320.7,1469.7L2314.7,1473.8L2308.7,1473.8ZM2166.7,1539.6L2168.7,1538.7L2173.9,1535.2L2179.9,1533.5L2188.0,1530.9L2196.0,1529.2L2201.3,1522.4L2200.9,1518.2L2206.1,1519.5L2208.1,1514.9L2212.1,1509.8L2217.0,1505.7L2222.2,1505.7L2225.0,1509.0L2230.2,1509.4L2231.0,1504.9L2234.2,1499.5L2238.3,1498.3L2242.3,1495.0L2246.3,1496.6L2252.4,1498.3L2259.2,1497.4L2258.4,1502.8L2255.6,1506.5L2254.4,1509.8L2260.4,1513.2L2268.4,1518.2L2272.5,1521.2L2276.5,1518.2L2278.5,1509.8L2278.9,1501.5L2280.5,1493.3L2282.5,1492.1L2285.3,1497.4L2286.5,1505.7L2290.6,1506.5L2293.8,1509.8L2294.6,1516.1L2297.4,1524.5L2302.6,1528.8L2307.9,1532.2L2310.7,1538.7L2315.5,1542.6L2316.7,1547.4L2322.7,1552.7L2325.6,1557.2L2326.8,1566.2L2325.6,1575.4L2324.0,1584.8L2318.7,1592.0L2315.9,1599.3L2312.7,1606.7L2312.3,1611.7L2304.6,1613.8L2298.6,1618.4L2292.6,1616.3L2287.7,1617.9L2280.5,1616.3L2274.5,1614.3L2271.3,1609.2L2270.5,1603.2L2265.2,1602.2L2264.4,1596.8L2262.4,1600.2L2260.4,1599.3L2263.6,1592.0L2263.6,1587.6L2259.6,1593.4L2255.6,1598.8L2252.4,1593.4L2248.3,1589.6L2242.3,1584.8L2236.3,1582.4L2228.2,1582.9L2220.2,1585.7L2214.1,1587.6L2208.1,1589.6L2206.1,1593.9L2200.1,1594.4L2192.0,1593.9L2186.0,1598.8L2179.9,1599.3L2173.9,1596.8L2171.9,1595.4L2172.7,1592.0L2174.7,1584.8L2173.1,1577.7L2171.1,1570.8L2168.7,1563.9L2165.9,1558.1L2167.1,1552.7L2165.5,1548.3ZM2291.4,1628.3L2296.6,1630.5L2305.4,1628.9L2305.9,1635.3L2302.6,1641.9L2297.4,1643.5L2293.8,1638.0L2291.4,1632.6Z" fill="#f6f8f8" stroke="#f6f8f8" stroke-width="1" stroke-linejoin="round"/><path d="M1821.9,1265.0L1820.7,1259.6L1823.9,1254.1L1824.7,1248.5L1828.8,1244.5L1832.0,1239.9L1836.0,1236.4L1840.0,1239.3L1844.1,1239.9L1840.8,1243.4L1844.1,1248.5L1848.1,1249.1L1852.1,1245.7L1856.5,1244.5L1860.1,1247.4L1864.2,1249.6L1869.4,1254.6L1874.2,1258.5L1877.0,1263.4L1875.4,1266.1L1870.2,1267.7L1864.2,1267.7L1858.1,1266.6L1854.1,1263.9L1850.1,1262.3L1844.1,1262.3L1840.0,1263.4L1835.2,1267.1L1830.0,1267.1L1826.0,1266.6ZM1850.1,1242.8L1852.1,1237.6L1858.1,1234.7L1863.4,1233.5L1867.0,1233.5L1864.2,1237.0L1861.8,1239.9L1860.1,1243.4L1856.5,1243.9ZM1906.4,1237.0L1912.4,1235.3L1918.5,1235.3L1922.5,1237.6L1922.5,1243.9L1916.5,1245.7L1914.5,1248.5L1911.6,1249.6L1914.5,1255.7L1919.7,1257.9L1921.3,1263.4L1922.5,1267.7L1926.5,1268.7L1922.5,1273.0L1924.5,1276.6L1925.7,1283.3L1926.5,1286.9L1922.5,1289.4L1916.5,1289.9L1910.4,1286.4L1906.4,1281.8L1907.2,1276.6L1908.8,1270.9L1906.4,1266.6L1902.4,1262.3L1900.4,1256.8L1898.4,1249.6L1900.4,1242.8ZM1945.0,1245.7L1947.8,1238.2L1953.9,1237.6L1954.7,1242.2L1950.7,1246.8L1945.8,1249.1ZM2127.7,1205.7L2133.7,1203.1L2139.7,1196.5L2145.8,1189.7L2151.0,1178.5L2149.0,1177.8L2143.7,1186.3L2137.7,1194.5L2131.7,1201.1L2126.8,1204.4ZM2005.0,1237.0L2011.0,1234.1L2019.0,1235.8L2027.1,1235.8L2025.1,1238.8L2015.0,1238.2L2009.0,1242.8L2005.0,1239.9ZM1837.2,1450.8L1840.0,1447.6L1846.1,1447.6L1846.9,1452.8L1844.1,1458.9L1840.0,1460.1L1837.2,1456.0ZM1827.2,1462.9L1829.2,1466.9L1828.4,1473.0L1833.2,1483.1L1831.6,1483.5L1826.8,1473.8L1826.4,1466.9ZM1846.1,1488.0L1848.5,1493.3L1849.3,1499.5L1850.9,1506.9L1848.5,1505.7L1847.3,1499.5L1846.5,1493.3ZM1832.0,1145.3L1836.0,1143.7L1842.0,1139.6L1840.0,1132.9L1834.0,1132.9L1830.0,1137.1ZM1848.1,1137.1L1852.1,1132.9L1855.3,1128.7L1852.1,1122.6L1848.1,1126.1L1849.3,1132.9Z" fill="#d3d7d9"/><g font-size="11" letter-spacing="1" text-anchor="middle" fill="#8d8f8f" stroke="#f6f8f8" stroke-width="2.500" stroke-opacity="0.7" paint-order="stroke" stroke-linejoin="round"><text x="1814.6" y="1125.9">フィンランド</text><text x="1745.4" y="1139.1">ノルウェー</text><text x="1812.4" y="1159.2">エストニア</text><text x="1805.7" y="1183.3">リトアニア</text><text x="1888.4" y="1174.0">モスクワ</text><text x="1952.0" y="1163.9">チェリャ</text><text x="1952.0" y="1176.6">ビンスク</text><text x="1701.8" y="1192.3">イギリス</text><text x="1719.7" y="1233.2">フランス</text><text x="1692.8" y="1270.5">スペイン</text><text x="1756.5" y="1263.8">イタリア</text><text x="1810.2" y="1245.2">ルーマニア</text><text x="1804.6" y="1283.9">ギリシャ</text><text x="1851.5" y="1282.8">トルコ</text><text x="1883.9" y="1264.9">ジョージア</text><text x="1979.8" y="1231.4">カザフスタン</text><text x="1948.7" y="1276.0">トルクメ</text><text x="1948.7" y="1288.4">ニスタン</text><text x="1747.6" y="1306.2">チュニジア</text><text x="1685.0" y="1315.2">モロッコ</text><text x="1719.7" y="1334.6">アルジェリア</text><text x="1782.2" y="1339.8">リビア</text><text x="1829.2" y="1342.7">エジプト</text><text x="1653.7" y="1350.9">西サハラ</text><text x="1895.1" y="1341.3">リヤド</text><text x="1928.6" y="1314.0">イラン</text><text x="1938.7" y="1365.0">オマーン</text><text x="1704.0" y="1382.2">マリ</text><text x="1784.5" y="1389.6">チャド</text><text x="1830.3" y="1396.7">スーダン</text><text x="1900.7" y="1388.2">イエメン</text><text x="1649.7" y="1391.2">セネガル</text><text x="1702.9" y="1397.4">ブルキナ</text><text x="1696.2" y="1407.9">ファソ</text><text x="1868.3" y="1418.0">エチオピア</text><text x="1791.2" y="1420.2">中央アフリ</text><text x="1791.2" y="1431.9">カ共和国</text><text x="2098.7" y="1131.9">ロシア</text><text x="2009.3" y="1269.8">キルギス</text><text x="1981.3" y="1311.8">ラホール</text><text x="1981.3" y="1334.2">パキスタン</text><text x="2026.0" y="1361.0">インド</text><text x="2071.8" y="1345.3">バングラ</text><text x="2068.5" y="1357.6">デシュ</text><text x="2160.1" y="1275.0">天津市</text><text x="2119.9" y="1293.5">中華人民</text><text x="2119.9" y="1307.4">共和国</text><text x="2224.9" y="1295.1">大韓民国</text><text x="2266.3" y="1295.7">日本</text><text x="2219.3" y="1313.4">上海市</text><text x="2164.6" y="1348.2">広州市</text><text x="2196.5" y="1355.4">香港</text><text x="2122.1" y="1371.0">ラオス</text><text x="2145.6" y="1394.5">ベトナム</text><text x="2203.7" y="1404.6">フィリピン</text><text x="2033.9" y="1420.2">スリランカ</text><text x="2118.8" y="1418.0">クアラル</text><text x="2118.8" y="1430.4">ンプール</text><text x="1774.4" y="1454.3">コンゴ共和国</text><text x="1839.2" y="1447.6">ウガンダ</text><text x="1933.1" y="1462.5">ヴィクトリア</text><text x="1849.3" y="1478.4">タンザニア</text><text x="1781.1" y="1501.7">アンゴラ</text><text x="1845.9" y="1506.8">マラウィ</text><text x="1849.3" y="1526.9">モザンビーク</text><text x="1942.0" y="1535.8">モーリシャス</text><text x="1778.9" y="1540.3">ナミビア</text><text x="1804.6" y="1565.3">南アフリ</text><text x="1805.7" y="1578.7">カ共和国</text><text x="1743.1" y="1590.1">ケープ タウン</text><text x="2003.7" y="1439.8">モルディブ</text><text x="2170.2" y="1433.7">ブルネイ</text><text x="2182.5" y="1461.7">インドネシア</text><text x="2290.8" y="1472.2">パプアニュ</text><text x="2294.2" y="1484.9">ーギニア</text><text x="2153.4" y="1581.7">パース</text><text x="2267.4" y="1593.9">アデレード</text><text x="2292.0" y="1626.8">メルボルン</text></g><text x="2092.0" y="1230.6" font-size="15" letter-spacing="2" text-anchor="middle" fill="#d9dcdc">アジア</text><text x="1805.7" y="1221.7" font-size="15" letter-spacing="2" text-anchor="middle" fill="#e3e6e6">ヨーロッパ</text><text x="2243.9" y="1542.3" font-size="15" letter-spacing="2" text-anchor="middle" fill="#dfe2e2">オーストラ</text><text x="2243.9" y="1557.5" font-size="15" letter-spacing="2" text-anchor="middle" fill="#dfe2e2">リア大陸</text><circle cx="1861.0" cy="1177.5" r="1.600" fill="#777"/><circle cx="1783.4" cy="1593.8" r="1.600" fill="#777"/><circle cx="2175.0" cy="1584.6" r="1.600" fill="#777"/><circle cx="2292.0" cy="1613.0" r="1.600" fill="#777"/><circle cx="2266.5" cy="1598.5" r="1.600" fill="#777"/><circle cx="1956.0" cy="1182.0" r="1.600" fill="#777"/><circle cx="2180.6" cy="1278.0" r="1.600" fill="#777"/><circle cx="2198.0" cy="1316.3" r="1.600" fill="#777"/><circle cx="2007.9" cy="1315.0" r="1.600" fill="#777"/><circle cx="1836.0" cy="1322.0" r="1.600" fill="#777"/><circle cx="2118.8" cy="1436.5" r="1.600" fill="#777"/><circle cx="1933.0" cy="1467.6" r="1.600" fill="#777"/><g fill="#e31a1c" fill-opacity="0.26" stroke="#e31a1c" stroke-width="1.700"><circle cx="1813.7" cy="1128.8" r="6.3"/><circle cx="1743.8" cy="1141.1" r="6.3"/><circle cx="1785.8" cy="1144.7" r="6.3"/><circle cx="1809.7" cy="1156.8" r="6.3"/><circle cx="1748.0" cy="1174.6" r="6.0"/><circle cx="1805.7" cy="1180.7" r="6.0"/><circle cx="1821.6" cy="1190.9" r="6.0"/><circle cx="1861.8" cy="1176.6" r="8.0"/><circle cx="1696.2" cy="1180.4" r="24.1"/><circle cx="1676.5" cy="1192.3" r="6.0"/><circle cx="1752.5" cy="1208.8" r="25.3"/><circle cx="1787.8" cy="1202.8" r="8.0"/><circle cx="1732.6" cy="1202.8" r="7.6"/><circle cx="1727.7" cy="1212.8" r="7.6"/><circle cx="1734.2" cy="1216.2" r="6.0"/><circle cx="1717.9" cy="1238.5" r="34.0"/><circle cx="1743.8" cy="1234.7" r="6.0"/><circle cx="1771.7" cy="1216.4" r="6.0"/><circle cx="1767.7" cy="1230.1" r="7.6"/><circle cx="1790.1" cy="1224.2" r="6.0"/><circle cx="1787.8" cy="1233.2" r="6.0"/><circle cx="1769.9" cy="1238.1" r="5.4"/><circle cx="1771.7" cy="1244.1" r="6.0"/><circle cx="1835.9" cy="1226.7" r="8.0"/><circle cx="1823.8" cy="1230.7" r="6.0"/><circle cx="1810.2" cy="1240.8" r="7.6"/><circle cx="1782.2" cy="1252.6" r="5.4"/><circle cx="1794.1" cy="1250.6" r="6.0"/><circle cx="1812.0" cy="1259.1" r="6.0"/><circle cx="1787.8" cy="1258.9" r="5.4"/><circle cx="1797.9" cy="1265.1" r="6.0"/><circle cx="1791.8" cy="1266.5" r="5.4"/><circle cx="1759.9" cy="1262.7" r="15.9"/><circle cx="1694.4" cy="1270.7" r="15.9"/><circle cx="1675.9" cy="1276.8" r="6.0"/><circle cx="1797.7" cy="1278.8" r="6.0"/><circle cx="1851.5" cy="1278.5" r="9.8"/><circle cx="1883.7" cy="1260.7" r="6.0"/><circle cx="1891.7" cy="1273.0" r="6.0"/><circle cx="1902.0" cy="1273.0" r="6.0"/><circle cx="1865.8" cy="1298.7" r="6.0"/><circle cx="1843.9" cy="1296.9" r="6.0"/><circle cx="1853.7" cy="1304.5" r="6.0"/><circle cx="1848.8" cy="1316.3" r="6.0"/><circle cx="1856.2" cy="1319.0" r="6.0"/><circle cx="1885.7" cy="1306.9" r="8.0"/><circle cx="1925.7" cy="1310.9" r="9.8"/><circle cx="1902.0" cy="1324.8" r="6.0"/><circle cx="1747.6" cy="1304.9" r="6.0"/><circle cx="1681.7" cy="1314.7" r="8.0"/><circle cx="1715.6" cy="1330.8" r="8.0"/><circle cx="1780.0" cy="1338.9" r="6.0"/><circle cx="1833.6" cy="1336.9" r="8.0"/><circle cx="1891.7" cy="1350.7" r="8.0"/><circle cx="1913.6" cy="1340.4" r="5.4"/><circle cx="1915.2" cy="1342.5" r="6.0"/><circle cx="1925.7" cy="1352.5" r="6.0"/><circle cx="1935.8" cy="1360.8" r="6.0"/><circle cx="1657.8" cy="1348.5" r="6.0"/><circle cx="1665.8" cy="1362.8" r="6.0"/><circle cx="1693.7" cy="1376.9" r="6.0"/><circle cx="1741.8" cy="1376.9" r="6.0"/><circle cx="1785.8" cy="1386.7" r="6.0"/><circle cx="1831.8" cy="1396.8" r="6.0"/><circle cx="1869.8" cy="1386.7" r="6.0"/><circle cx="1905.8" cy="1384.7" r="6.0"/><circle cx="1881.7" cy="1400.8" r="6.0"/><circle cx="1871.6" cy="1412.8" r="6.0"/><circle cx="1652.0" cy="1390.3" r="6.0"/><circle cx="1648.2" cy="1394.5" r="6.0"/><circle cx="1649.9" cy="1401.2" r="6.0"/><circle cx="1703.6" cy="1398.8" r="6.0"/><circle cx="1662.0" cy="1414.6" r="6.0"/><circle cx="1671.6" cy="1409.1" r="6.0"/><circle cx="1719.9" cy="1410.6" r="6.0"/><circle cx="1714.1" cy="1413.7" r="5.4"/><circle cx="1705.1" cy="1416.2" r="6.0"/><circle cx="1687.7" cy="1417.3" r="6.0"/><circle cx="1743.8" cy="1412.4" r="8.0"/><circle cx="1759.9" cy="1417.3" r="6.0"/><circle cx="1979.8" cy="1228.7" r="6.0"/><circle cx="1969.7" cy="1265.1" r="6.0"/><circle cx="1949.6" cy="1279.0" r="6.0"/><circle cx="2009.9" cy="1266.7" r="6.0"/><circle cx="1995.9" cy="1278.8" r="6.0"/><circle cx="1981.8" cy="1302.9" r="6.0"/><circle cx="1989.8" cy="1321.0" r="8.0"/><circle cx="2047.9" cy="1328.8" r="6.0"/><circle cx="2074.1" cy="1332.8" r="6.0"/><circle cx="2074.1" cy="1350.9" r="8.0"/><circle cx="2027.8" cy="1364.8" r="24.1"/><circle cx="2095.8" cy="1359.0" r="8.0"/><circle cx="2127.7" cy="1234.7" r="6.3"/><circle cx="2129.9" cy="1294.9" r="28.4"/><circle cx="2223.8" cy="1294.9" r="8.0"/><circle cx="2265.8" cy="1292.6" r="9.8"/><circle cx="2169.7" cy="1356.8" r="6.0"/><circle cx="2195.9" cy="1350.7" r="6.0"/><circle cx="2121.9" cy="1366.8" r="6.0"/><circle cx="2115.9" cy="1384.9" r="8.0"/><circle cx="2145.8" cy="1390.7" r="8.0"/><circle cx="2131.7" cy="1398.8" r="6.0"/><circle cx="2199.7" cy="1396.8" r="11.8"/><circle cx="2033.9" cy="1416.2" r="6.0"/><circle cx="1671.6" cy="1422.8" r="6.0"/><circle cx="1793.9" cy="1422.8" r="6.0"/><circle cx="1895.8" cy="1428.8" r="6.0"/><circle cx="1751.8" cy="1442.7" r="6.0"/><circle cx="1755.9" cy="1453.0" r="6.0"/><circle cx="1773.7" cy="1448.9" r="6.0"/><circle cx="1839.7" cy="1442.7" r="6.0"/><circle cx="1861.8" cy="1448.9" r="6.0"/><circle cx="1829.8" cy="1455.9" r="6.0"/><circle cx="1829.8" cy="1462.8" r="6.0"/><circle cx="1797.9" cy="1464.8" r="8.0"/><circle cx="1849.7" cy="1474.9" r="6.0"/><circle cx="1781.8" cy="1494.7" r="6.0"/><circle cx="1821.6" cy="1502.8" r="6.0"/><circle cx="1847.7" cy="1502.8" r="6.0"/><circle cx="1853.7" cy="1524.7" r="6.0"/><circle cx="1827.6" cy="1526.9" r="6.0"/><circle cx="1897.8" cy="1524.7" r="6.0"/><circle cx="1809.7" cy="1540.8" r="6.0"/><circle cx="1835.9" cy="1558.9" r="6.0"/><circle cx="1823.8" cy="1573.0" r="6.0"/><circle cx="1801.9" cy="1578.8" r="10.1"/><circle cx="2119.9" cy="1432.8" r="8.0"/><circle cx="2127.7" cy="1442.9" r="8.0"/><circle cx="2167.9" cy="1453.0" r="20.3"/><circle cx="2289.7" cy="1474.6" r="6.0"/><circle cx="2247.9" cy="1554.9" r="36.4"/></g><rect x="1592" y="1647" width="727" height="66" fill="#fff" fill-opacity="0.72"/></g><rect x="1973" y="1131.500" width="326" height="59.500" rx="9" fill="#fff" fill-opacity="0.82"/><text x="1989.500" y="1175" font-size="24" fill="#555" textLength="292.500" lengthAdjust="spacingAndGlyphs">Hover over or click an area.</text><rect x="1612.500" y="1131.500" width="67" height="127" rx="9" fill="#000" fill-opacity="0.2"/><rect x="1616.500" y="1135.500" width="59" height="119" rx="6" fill="#fff"/><line x1="1616.500" x2="1675.500" y1="1194.500" y2="1194.500" stroke="#ccc" stroke-width="1.500"/><text x="1646.500" y="1184.500" font-size="50" font-weight="bold" text-anchor="middle" fill="#000" font-family="Liberation Mono,monospace">+</text><text x="1646.500" y="1246" font-size="50" font-weight="bold" text-anchor="middle" fill="#000" font-family="Liberation Mono,monospace">−</text></svg><div class="abs" style="left:26px;top:615.5px;width:700px;font-size:22.3px;line-height:33px;color:#333;white-space:nowrap"><span style="color:#0078a8">Leaflet</span> | Map data © <span style="color:#0078a8">OpenStreetMap</span> contributors, <span style="color:#0078a8">CC-BY-SA</span>, Imagery<br>© <span style="color:#0078a8">Mapbox</span></div></div>
<div class="card" style="left:2353px;top:1029px;width:763px;height:702px"><div class="ttl" style="padding-left:21px">マーケットごとの売上</div><div class="abs" style="left:16px;top:80px;width:708px;height:602px;background:#fff;overflow:hidden"></div><div class="abs" style="left:271px;top:146.5px;font-size:28px;line-height:40px;color:#333;white-space:nowrap;">オフィス用品</div><div class="abs" style="left:538.5px;top:146.5px;width:155.5px;overflow:hidden;font-size:28px;line-height:40px;color:#1c8a47;white-space:nowrap">$1,248,091.2</div><div class="abs" style="left:251px;top:193px;width:443px;height:55px;background:#f9f9f9;"></div><div class="abs" style="left:271px;top:201.8px;font-size:28px;line-height:40px;color:#333;white-space:nowrap;">家具</div><div class="abs" style="left:538.5px;top:201.8px;width:155.5px;overflow:hidden;font-size:28px;line-height:40px;color:#0d7a3c;white-space:nowrap">$1,461,551.3</div><div class="abs" style="left:271px;top:256.6px;font-size:28px;line-height:40px;color:#333;white-space:nowrap;">電化製品</div><div class="abs" style="left:538.5px;top:256.6px;width:155.5px;overflow:hidden;font-size:28px;line-height:40px;color:#06702f;white-space:nowrap">$1,537,454.7</div><div class="abs" style="left:251px;top:306px;width:443px;height:55px;background:#f9f9f9;"></div><div class="abs" style="left:271px;top:314.2px;font-size:28px;line-height:40px;color:#333;white-space:nowrap;">オフィス用品</div><div class="abs" style="left:546.0px;top:314.2px;width:148.0px;overflow:hidden;font-size:28px;line-height:40px;color:#b7e3b6;white-space:nowrap">$266,755.535</div><div class="abs" style="left:271px;top:369.8px;font-size:28px;line-height:40px;color:#333;white-space:nowrap;">家具</div><div class="abs" style="left:546.0px;top:369.8px;width:148.0px;overflow:hidden;font-size:28px;line-height:40px;color:#c5e9c3;white-space:nowrap">$194,650.645</div><div class="abs" style="left:251px;top:417px;width:443px;height:55px;background:#f9f9f9;"></div><div class="abs" style="left:271px;top:425.3px;font-size:28px;line-height:40px;color:#333;white-space:nowrap;">電化製品</div><div class="abs" style="left:546.0px;top:425.3px;width:148.0px;overflow:hidden;font-size:28px;line-height:40px;color:#b3e1b2;white-space:nowrap">$322,367.045</div><div class="abs" style="left:271px;top:481.5px;font-size:28px;line-height:40px;color:#333;white-space:nowrap;">オフィス用品</div><div class="abs" style="left:522.3px;top:481.5px;width:171.7px;overflow:hidden;font-size:28px;line-height:40px;color:#2e9f59;white-space:nowrap">$1,163,660.58</div><div class="abs" style="left:251px;top:528px;width:443px;height:55px;background:#f9f9f9;"></div><div class="abs" style="left:271px;top:536.8px;font-size:28px;line-height:40px;color:#333;white-space:nowrap;">家具</div><div class="abs" style="left:545.5px;top:536.8px;width:148.5px;overflow:hidden;font-size:28px;line-height:40px;color:#66bd70;white-space:nowrap">$890,106.565</div><div class="abs" style="left:271px;top:593.0px;font-size:28px;line-height:40px;color:#333;white-space:nowrap;">電化製品</div><div class="abs" style="left:522.3px;top:593.0px;width:171.7px;overflow:hidden;font-size:28px;line-height:40px;color:#229450;white-space:nowrap">$1,233,569.09</div><div class="abs" style="left:251px;top:642px;width:443px;height:12px;background:#f9f9f9;"></div><div class="abs" style="left:37px;top:88.2px;font-size:28px;line-height:40px;color:#333;white-space:nowrap;font-weight:bold;">マーケット</div><div class="abs" style="left:271px;top:88.2px;font-size:28px;line-height:40px;color:#333;white-space:nowrap;font-weight:bold;">カテゴリー</div><div class="abs" style="left:37px;top:146.0px;font-size:28px;line-height:40px;color:#333;white-space:nowrap;font-weight:bold;">アジア</div><div class="abs" style="left:37px;top:314.0px;font-size:28px;line-height:40px;color:#333;white-space:nowrap;font-weight:bold;">アフリカ</div><div class="abs" style="left:37px;top:481.5px;font-size:28px;line-height:40px;color:#333;white-space:nowrap;font-weight:bold;">ヨーロッパ</div><div class="abs" style="left:16px;top:134px;width:678px;height:4px;background:#cfcfcf;"></div><div class="abs" style="left:16px;top:304px;width:678px;height:2px;background:#dedede;"></div><div class="abs" style="left:16px;top:472px;width:678px;height:2px;background:#dedede;"></div><div class="abs" style="left:16px;top:639px;width:678px;height:2px;background:#dedede;"></div><div class="abs" style="left:693px;top:80px;width:31px;height:602px;background:#fafafa;border-left:2px solid #e8e8e8;border-right:2px solid #ededed"></div><div class="abs" style="left:701px;top:149px;width:16px;height:278px;background:#c1c1c1;border-radius:8px"></div><div class="abs" style="left:16px;top:653px;width:708px;height:29px;background:#fafafa;border-top:2px solid #e8e8e8;border-bottom:2px solid #ededed;border-right:2px solid #ededed"></div><div class="abs" style="left:22px;top:660px;width:306px;height:16px;background:#c1c1c1;border-radius:8px"></div></div>
<div class="abs" id="panel" style="left:2594px;top:70px;width:480px;height:1172px;background:#fff;border:2px solid #c6c6c6;border-radius:13px;box-shadow:0 12px 24px rgba(0,0,0,0.22),0 0 6px rgba(0,0,0,0.08)"><div class="abs" style="left:0;top:0;width:476px;height:1168px;border-radius:11px;overflow:hidden"><div class="abs" style="left:0px;top:0px;width:476px;height:85px;background:#f0f0f0;border-bottom:2px solid #d8d8d8"></div><div class="abs" style="left:18px;top:22.5px;font-size:24px;line-height:40px;color:#444;white-space:nowrap;font-weight:bold;">ダッシュボードタイトルの設定</div><div class="abs" style="left:26px;top:120px;width:26px;height:26px;background:#fff;border:2px solid #6a6a6a;border-radius:6px"></div><div class="abs" style="left:62px;top:114.0px;font-size:24px;line-height:40px;color:#555;white-space:nowrap;">タイトルを表示する</div><div class="abs" style="left:26px;top:168.5px;font-size:24px;line-height:40px;color:#555;white-space:nowrap;">タイトル</div><div class="abs" style="left:24px;top:212px;width:432px;height:49px;background:#fff;border:2px solid #ccc;border-radius:8px;box-shadow:inset 0 2px 2px rgba(0,0,0,0.05)"><div class="abs" style="left:9px;top:3px;font-size:24px;line-height:40px;color:#aaa;white-space:nowrap;letter-spacing:1px">(例:「テキスト」)</div></div><div class="abs" style="left:0px;top:309px;width:476px;height:86px;background:#f0f0f0;border-top:2px solid #d8d8d8;border-bottom:2px solid #d8d8d8"></div><div class="abs" style="left:18px;top:332.0px;font-size:24px;line-height:40px;color:#444;white-space:nowrap;font-weight:bold;">色の設定</div><div class="abs" style="left:26px;top:424.5px;font-size:24px;line-height:40px;color:#555;white-space:nowrap;">背景色</div><div class="abs" style="left:24px;top:468px;width:432px;height:49px;background:#fff;border:2px solid #ccc;border-radius:8px;box-shadow:inset 0 2px 2px rgba(0,0,0,0.05)"><div class="abs" style="left:11px;top:10px;width:39px;height:25px;background:#51a7f9;border:2px solid #c8c8c8;border-radius:4px"></div><div class="abs" style="left:76.5px;top:2.5px;font-size:24px;line-height:40px;color:#444;white-space:nowrap;letter-spacing:0px">#51A7F9</div></div><div class="abs" style="left:26px;top:528.5px;font-size:24px;line-height:40px;color:#555;white-space:nowrap;">ボーダーの色</div><div class="abs" style="left:24px;top:573px;width:432px;height:49px;background:#fff;border:2px solid #ccc;border-radius:8px;box-shadow:inset 0 2px 2px rgba(0,0,0,0.05)"><div class="abs" style="left:11px;top:10px;width:39px;height:25px;background:#000;border:2px solid #c8c8c8;border-radius:4px"></div><div class="abs" style="left:76.5px;top:2.5px;font-size:24px;line-height:40px;color:#444;white-space:nowrap;letter-spacing:0px">#000000</div></div><div class="abs" style="left:0px;top:660px;width:476px;height:86px;background:#f0f0f0;border-top:2px solid #d8d8d8;border-bottom:2px solid #d8d8d8"></div><div class="abs" style="left:18px;top:683.0px;font-size:24px;line-height:40px;color:#444;white-space:nowrap;font-weight:bold;">チャートの設定</div><svg class="abs" style="left:26px;top:782px" width="26" height="26" viewBox="0 0 26 26"><rect x="0" y="0" width="26" height="26" rx="5.500" fill="#0b6efd"/><path d="M6.200 13.800L11 18.800L20 7.500" fill="none" stroke="#fff" stroke-width="3.600" stroke-linecap="round" stroke-linejoin="round"/></svg><div class="abs" style="left:62px;top:776.0px;font-size:24px;line-height:40px;color:#555;white-space:nowrap;">繰り返し用のコントロールを表示</div><svg class="abs" style="left:26px;top:836px" width="26" height="26" viewBox="0 0 26 26"><rect x="0" y="0" width="26" height="26" rx="5.500" fill="#0b6efd"/><path d="M6.200 13.800L11 18.800L20 7.500" fill="none" stroke="#fff" stroke-width="3.600" stroke-linecap="round" stroke-linejoin="round"/></svg><div class="abs" style="left:62px;top:830.0px;font-size:24px;line-height:40px;color:#555;white-space:nowrap;"><span style="letter-spacing:-0.35px">ナンバーのフォントサイズ自動調整</span></div><div class="abs" style="left:0px;top:910px;width:476px;height:87px;background:#f0f0f0;border-top:2px solid #d8d8d8;border-bottom:2px solid #d8d8d8"></div><div class="abs" style="left:18px;top:935.5px;font-size:24px;line-height:40px;color:#444;white-space:nowrap;font-weight:bold;">LaTeX書式</div><div class="abs" style="left:26px;top:1033px;width:26px;height:26px;background:#fff;border:2px solid #6a6a6a;border-radius:6px"></div><div class="abs" style="left:62px;top:1027.0px;font-size:24px;line-height:40px;color:#555;white-space:nowrap;">LaTeX書式を有効にする</div><div class="abs" style="left:256px;top:1105px;width:84px;height:52px;background:#00ab6c;border-radius:8px;color:#fff;font-size:24px;line-height:52px;text-align:center">適用</div><div class="abs" style="left:348px;top:1105px;width:108px;height:52px;background:#fff;border:2px solid #ccc;border-radius:8px;color:#444;font-size:24px;line-height:48px;text-align:center">閉じる</div></div></div><svg class="abs" style="left:0;top:0;pointer-events:none" width="3134" height="1742" viewBox="0 0 3134 1742"><defs><filter id="ash" x="-5%" y="-20%" width="110%" height="150%"><feDropShadow dx="0" dy="3" stdDeviation="2.500" flood-color="#000" flood-opacity="0.35"/></filter></defs><g fill="#ff2d6c" filter="url(#ash)"><path d="M2319,558.3 C2439,554.3 2486.5,549.5 2546.5,543.5 L2539.5,520.2 L2623,562.5 L2539.5,604.8 L2546.5,581.5 C2486.5,575.5 2439,570.7 2319,566.7 A4.2,4.2 0 0 1 2319,558.3Z"/><path d="M2325.5,664.8 C2445.5,660.8 2492.5,656 2552.5,650 L2545.5,627 L2629.5,669 L2545.5,711 L2552.5,688 C2492.5,682 2445.5,677.2 2325.5,673.2 A4.2,4.2 0 0 1 2325.5,664.8Z"/></g></svg>

<script>
(function(){
  var d = window.devicePixelRatio || 1, w = window.innerWidth || 0;
  if (d > 1.01 && Math.abs(w * d - 3134) < 3) { document.body.style.transformOrigin = '0 0'; document.body.style.transform = 'scale(' + (1 / d) + ')'; }
})();
</script>
</body>
</html>
